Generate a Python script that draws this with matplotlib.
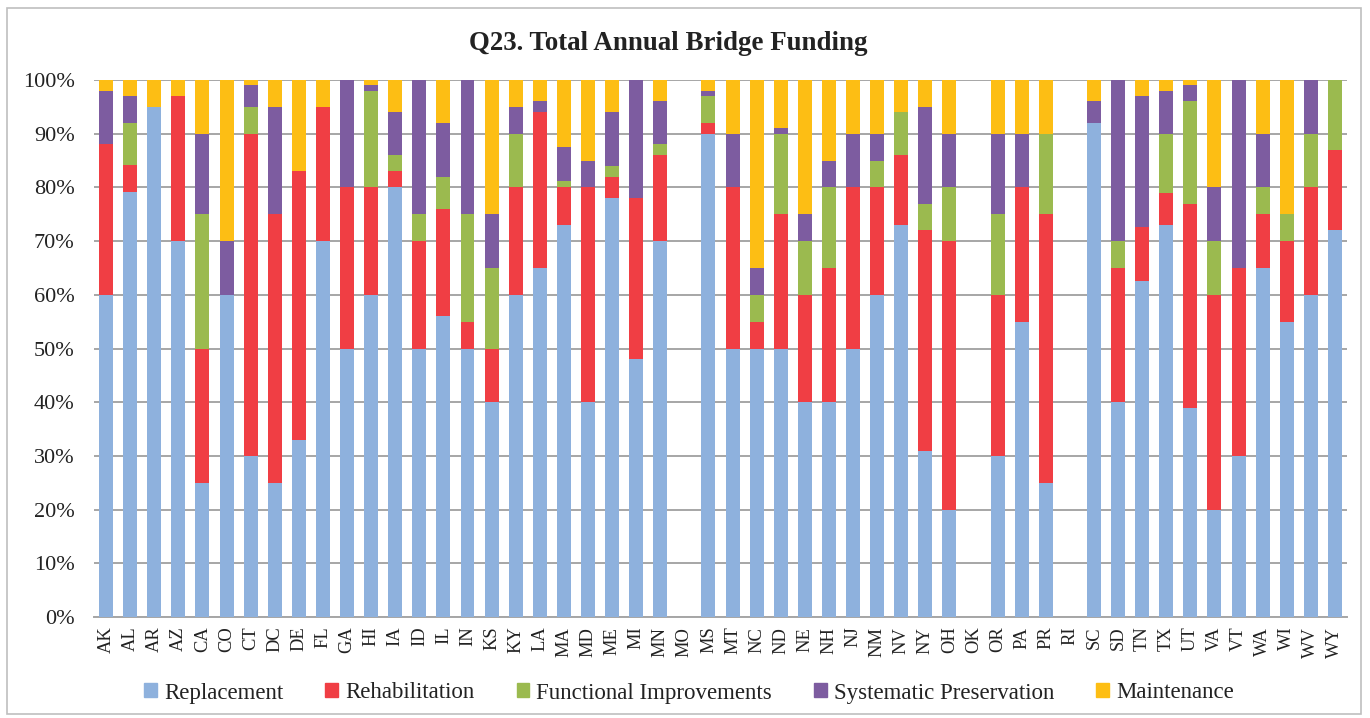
import matplotlib.pyplot as plt
import matplotlib.patches as mpatches
import numpy as np

states = ['AK', 'AL', 'AR', 'AZ', 'CA', 'CO', 'CT', 'DC', 'DE', 'FL', 'GA', 'HI', 'IA',
          'ID', 'IL', 'IN', 'KS', 'KY', 'LA', 'MA', 'MD', 'ME', 'MI', 'MN', 'MO', 'MS',
          'MT', 'NC', 'ND', 'NE', 'NH', 'NJ', 'NM', 'NV', 'NY', 'OH', 'OK', 'OR', 'PA',
          'PR', 'RI', 'SC', 'SD', 'TN', 'TX', 'UT', 'VA', 'VT', 'WA', 'WI', 'WV', 'WY']

# share of funding (%) per category; MO, OK and RI did not report
replacement = [60, 79.2, 95, 70, 25, 60, 30, 25, 33, 70, 50, 60, 80,
               50, 56, 50, 40, 60, 65, 73, 40, 78, 48, 70, 0, 90,
               50, 50, 50, 40, 40, 50, 60, 73, 31, 20, 0, 30, 55,
               25, 0, 92, 40, 62.5, 73, 39, 20, 30, 65, 55, 60, 72]
rehabilitation = [28, 5, 0, 27, 25, 0, 60, 50, 50, 25, 30, 20, 3,
                  20, 20, 5, 10, 20, 29, 7, 40, 4, 30, 16, 0, 2,
                  30, 5, 25, 20, 25, 30, 20, 13, 41, 50, 0, 30, 25,
                  50, 0, 0, 25, 10.1, 6, 38, 40, 35, 10, 15, 20, 15]
functional = [0, 7.8, 0, 0, 25, 0, 5, 0, 0, 0, 0, 18, 3,
              5, 6, 20, 15, 10, 0, 1.2, 0, 2, 0, 2, 0, 5,
              0, 5, 15, 10, 15, 0, 5, 8, 5, 10, 0, 15, 0,
              15, 0, 0, 5, 0, 11, 19, 10, 0, 5, 5, 10, 13]
preservation = [10, 5, 0, 0, 15, 10, 4, 20, 0, 0, 20, 1, 8,
                25, 10, 25, 10, 5, 2, 6.3, 5, 10, 22, 8, 0, 1,
                10, 5, 1, 5, 5, 10, 5, 0, 18, 10, 0, 15, 10,
                0, 0, 4, 30, 24.4, 8, 3, 10, 35, 10, 0, 10, 0]
maintenance = [2, 3, 5, 3, 10, 30, 1, 5, 17, 5, 0, 1, 6,
               0, 8, 0, 25, 5, 4, 12.5, 15, 6, 0, 4, 0, 2,
               10, 35, 9, 25, 15, 10, 10, 6, 5, 10, 0, 10, 10,
               10, 0, 4, 0, 3, 2, 1, 20, 0, 10, 25, 0, 0]

series = [('Replacement', replacement, '#8EB1DD'),
          ('Rehabilitation', rehabilitation, '#F03E44'),
          ('Functional Improvements', functional, '#9BBA4F'),
          ('Systematic Preservation', preservation, '#7D5CA0'),
          ('Maintenance', maintenance, '#FDBE14')]

plt.rcParams['font.family'] = ['Liberation Serif', 'DejaVu Serif']

fig = plt.figure(figsize=(13.7, 7.18), dpi=100)
ax = fig.add_axes([94 / 1370, 1 - 617 / 718, (1347 - 94) / 1370, (617 - 80) / 718])

x = np.arange(len(states))
bottom = np.zeros(len(states))
for name, vals, color in series:
    vals = np.array(vals, dtype=float)
    ax.bar(x, vals, 0.58, bottom=bottom, color=color, label=name, zorder=3)
    bottom += vals

ax.set_xlim(-0.5, len(states) - 0.5)
ax.set_ylim(0, 100)
ax.set_yticks(np.arange(0, 101, 10))
ax.set_yticklabels([f'{v}%' for v in range(0, 101, 10)], fontsize=16, color='#222222')
ax.set_xticks(x)
ax.set_xticklabels(states, rotation=90, fontsize=13.3, color='#222222')
ax.tick_params(length=0, pad=7)
ax.tick_params(axis='y', pad=14)
ax.grid(axis='y', color='#A6A6A6', linewidth=1.4, zorder=0)
for side in ['left', 'right', 'top']:
    ax.spines[side].set_visible(False)
ax.spines['bottom'].set_color('#A6A6A6')
ax.spines['bottom'].set_linewidth(1.4)

fig.text(0.4876, 1 - 44 / 718, 'Q23. Total Annual Bridge Funding', ha='center', va='center',
         fontsize=19.4, fontweight='bold', color='#222222')

handles = [mpatches.Patch(color=c, label=n) for n, _, c in series]
fig.legend(handles=handles, loc='center', bbox_to_anchor=(689 / 1370, 1 - 693 / 718), ncol=5,
           frameon=False, fontsize=16.5, handlelength=0.55, handleheight=0.55,
           handletextpad=0.3, columnspacing=1.85, labelcolor='#222222')

# outer chart border
fig.patches.append(mpatches.Rectangle((7 / 1370, 4 / 718), 1354 / 1370, 706 / 718,
                                      transform=fig.transFigure, fill=False,
                                      edgecolor='#BFBFBF', linewidth=1.2))

fig.savefig('out.png', dpi=100)
